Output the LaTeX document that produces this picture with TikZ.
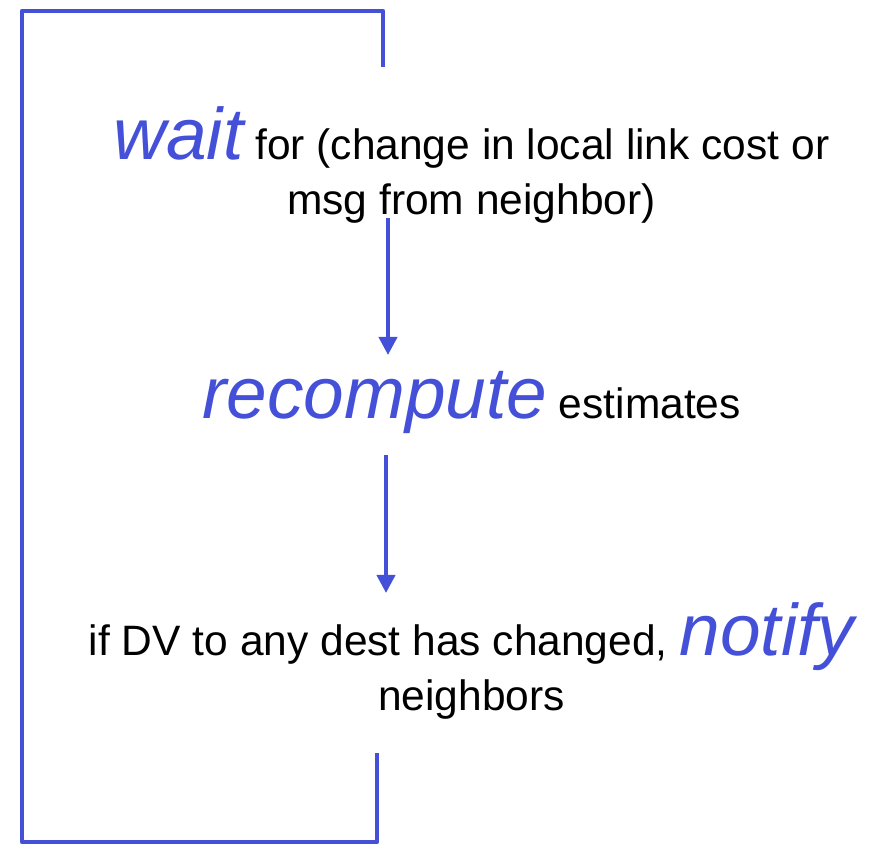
\documentclass[tikz,border=0pt]{standalone}
\usepackage{fontspec}
\setmainfont{Liberation Sans}
\usetikzlibrary{positioning, arrows.meta}

\definecolor{loopblue}{RGB}{68,80,216}
\newcommand{\actword}[1]{{\fontsize{36.5}{44}\selectfont\itshape\color{loopblue}#1}}

\begin{document}
\begin{tikzpicture}[x=0.5pt, y=-0.5pt]
      % Define styles for text lines and connectors
      \tikzset{
        textline/.style={anchor=base, inner sep=0pt, font=\fontsize{21.25}{25}\selectfont},
        flowarrow/.style={draw=loopblue, line width=2pt, -{Triangle[length=9pt, width=9pt]}},
        loopline/.style={draw=loopblue, line width=2.25pt, line join=round}
      }
      \useasboundingbox (0,0) rectangle (879,844);

      % The three steps of the loop
      \node[textline] (waitline) at (471.5,160) {\actword{wait} for (change in local link cost or};
      \node[textline] (msgline) at (471.5,215) {msg from neighbor)};
      \node[textline] (recompline) at (471.5,419) {\actword{recompute} estimates};
      \node[textline] (notifyline) at (471.5,656) {if DV to any dest has changed, \actword{notify}};
      \node[textline] (neighline) at (471.5,711) {neighbors};

      % Free ends of the loop back line
      \coordinate (looptop) at (383,67);
      \coordinate (loopbottom) at (377,753);

      % Draw the arrows between the steps
      \draw[flowarrow] ([shift={(-83.5,3)}]msgline.base) -- ([shift={(-83.5,-64)}]recompline.base);
      \draw[flowarrow] ([shift={(-85.5,36)}]recompline.base) -- ([shift={(-85.5,-63)}]notifyline.base);

      % Draw the loop back to the top
      \draw[loopline] (loopbottom) -- ++(0,89) -| (22,11) -| (looptop);
\end{tikzpicture}
\end{document}
